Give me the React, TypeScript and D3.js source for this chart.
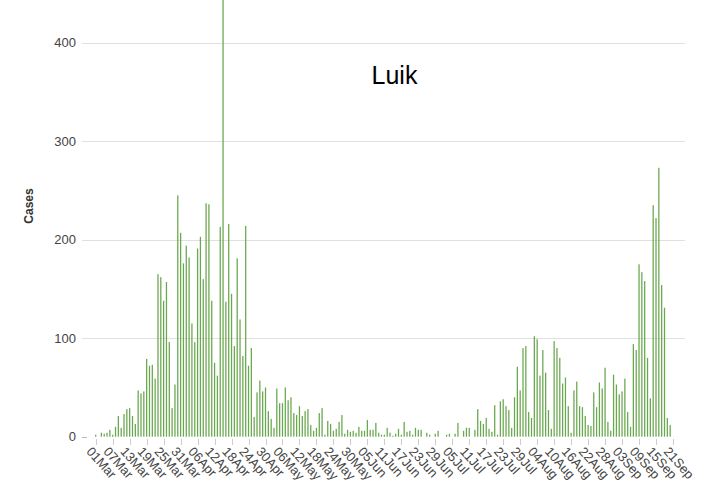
import * as d3 from "d3";

const W = 711;
const H = 483;
const font = "'Liberation Sans', Arial, sans-serif";

// one bar per day, 01 Mar - 21 Sep
const days = d3.timeDay.range(new Date(2020, 2, 1), new Date(2020, 8, 22));
const fmtDay = d3.timeFormat("%d%b");
const categories = days.map((d) => fmtDay(d));

const cases = [
  2, 0, 4, 3, 4, 7, 2, 10, 21, 9, 23, 28, 29, 21, 13, 47, 44, 46, 79, 72,
  73, 59, 165, 162, 138, 157, 96, 29, 53, 245, 207, 176, 194, 182, 115, 96, 191, 203, 160, 237,
  236, 138, 75, 62, 213, 460, 137, 216, 145, 92, 181, 119, 82, 214, 72, 90, 20, 45, 57, 46,
  50, 26, 18, 9, 49, 34, 34, 50, 37, 40, 24, 22, 31, 21, 26, 28, 12, 6, 9, 24,
  29, 2, 16, 13, 6, 8, 15, 22, 3, 7, 5, 6, 4, 10, 6, 6, 17, 7, 7, 14,
  4, 2, 2, 9, 4, 1, 3, 8, 2, 15, 5, 6, 2, 9, 7, 7, 0, 4, 2, 0,
  3, 6, 0, 0, 2, 3, 0, 3, 14, 0, 6, 9, 9, 0, 7, 28, 16, 13, 19, 8,
  5, 32, 2, 36, 38, 31, 27, 9, 40, 71, 47, 90, 92, 25, 19, 102, 99, 62, 88, 65,
  27, 8, 97, 90, 80, 54, 60, 31, 4, 47, 56, 31, 30, 21, 12, 11, 45, 30, 55, 49,
  70, 15, 6, 63, 53, 43, 46, 59, 25, 10, 94, 88, 175, 167, 158, 80, 39, 235, 222, 273,
  154, 131, 19, 12, 0,
];

const xTickLabels = [
  "01Mar", "07Mar", "13Mar", "19Mar", "25Mar", "31Mar", "06Apr", "12Apr", "18Apr",
  "24Apr", "30Apr", "06May", "12May", "18May", "24May", "30May", "05Jun", "11Jun",
  "17Jun", "23Jun", "29Jun", "05Jul", "11Jul", "17Jul", "23Jul", "29Jul", "04Aug",
  "10Aug", "16Aug", "22Aug", "28Aug", "03Sep", "09Sep", "15Sep", "21Sep",
];
const yTicks = [0, 100, 200, 300, 400];

const grid = { left: 82, right: 685 };

export default function App() {
  const x = d3
    .scaleBand<string>()
    .domain(categories)
    .range([94.3, 674.4])
    .paddingInner(0.55)
    .paddingOuter(0.275);
  const y = d3.scaleLinear().domain([0, 400]).range([436.7, 42.7]);
  const bw = x.bandwidth();
  const cx = (c: string) => (x(c) ?? 0) + bw / 2;

  return (
    <svg
      width={W}
      height={H}
      style={{ position: "absolute", left: 0, top: 0, background: "#fff" }}
      fontFamily={font}
    >
      {/* gridlines */}
      {yTicks.map((t) => (
        <g key={t}>
          <line
            x1={grid.left}
            x2={t === 0 ? grid.left + 5 : grid.right}
            y1={Math.round(y(t)) + 0.5}
            y2={Math.round(y(t)) + 0.5}
            stroke={t === 0 ? "#bbb" : "#e0e0e0"}
            strokeWidth={1}
          />
          <text
            x={76}
            y={y(t) + 4.5}
            textAnchor="end"
            fontSize={13}
            fill="#444"
          >
            {t}
          </text>
        </g>
      ))}

      {/* bars */}
      {categories.map((c, i) => (
        <rect
          key={c}
          x={x(c)}
          y={y(cases[i])}
          width={bw}
          height={y(0) - y(cases[i])}
          fill="#6aa84f"
        />
      ))}

      {/* x ticks + slanted labels */}
      {xTickLabels.map((lab) => {
        const px = cx(lab);
        return (
          <g key={lab}>
            <line
              x1={Math.round(px) + 0.5}
              x2={Math.round(px) + 0.5}
              y1={439}
              y2={445}
              stroke="#ccc"
            />
            <text
              transform={`translate(${px - 10},${452}) rotate(48)`}
              fontSize={13}
              fill="#444"
            >
              {lab}
            </text>
          </g>
        );
      })}

      <text
        transform={`translate(33,206) rotate(-90)`}
        textAnchor="middle"
        fontSize={12}
        fontWeight="bold"
        fill="#333"
      >
        Cases
      </text>

      <text x={394.5} y={84} textAnchor="middle" fontSize={25} fill="#000">
        Luik
      </text>
    </svg>
  );
}
